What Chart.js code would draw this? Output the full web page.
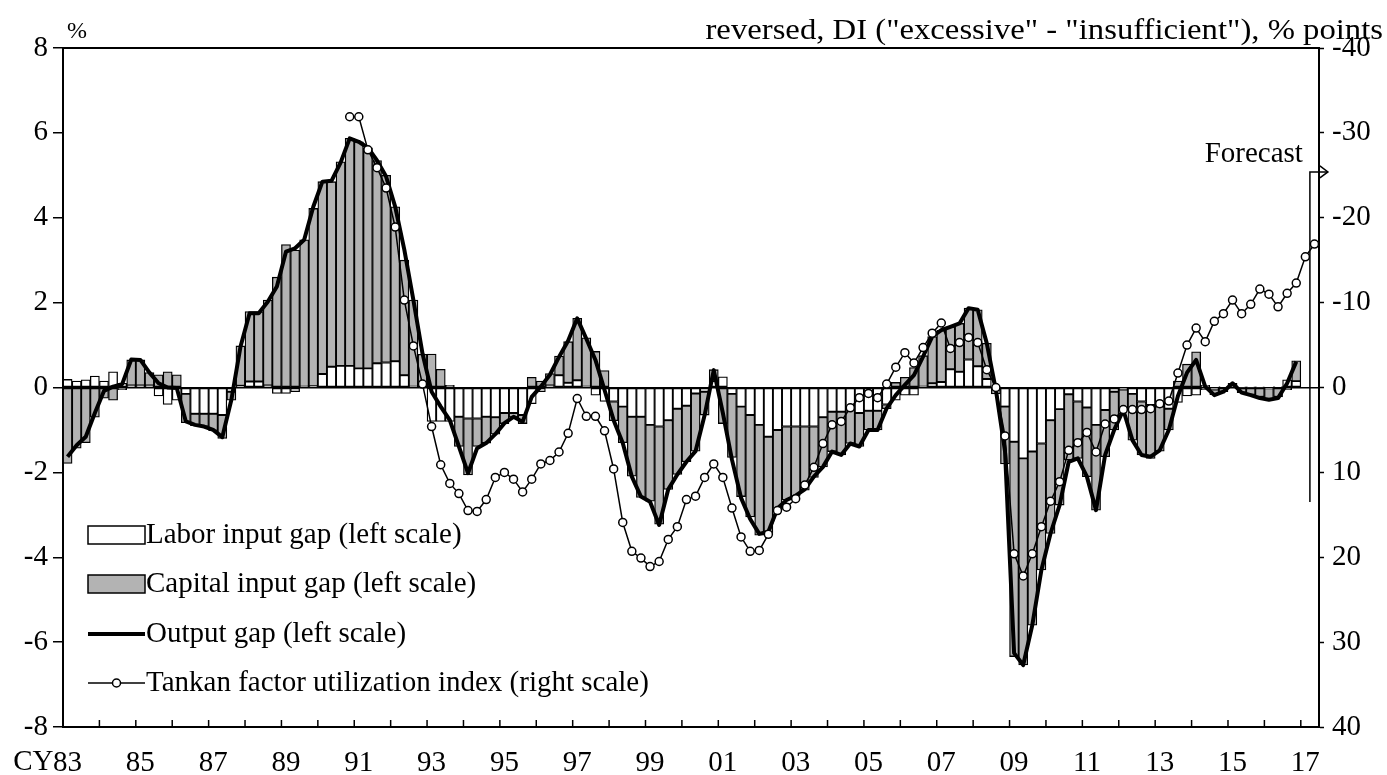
<!DOCTYPE html>
<html>
<head>
<meta charset="utf-8">
<script src="https://cdn.jsdelivr.net/npm/chart.js@4.4.1/dist/chart.umd.min.js"></script>
<style>
  html, body { margin: 0; padding: 0; background: #fff; }
  #wrap { width: 1387px; height: 775px; }
</style>
</head>
<body>
<div id="wrap"><canvas id="gapChart" width="1387" height="775"></canvas></div>
<script>
// ======================
// quarters, CY1983/Q1 - 2017/Q2
// ======================
const firstYear = 1983;
const quarterCount = 138;
const quarters = [];
for (let i = 0; i < quarterCount; i++) {
    quarters.push((firstYear + Math.floor(i / 4)) + '/Q' + (i % 4 + 1));
}
// one label every two years, on the first quarter
const yearTicks = ['83', '85', '87', '89', '91', '93', '95', '97', '99',
                   '01', '03', '05', '07', '09', '11', '13', '15', '17'];

// ======================
// series (left scale, %), 1983/Q1 - 2016/Q4
// ======================
const laborGap = [
    0.19, 0.15, 0.18, 0.27,   0.15, 0.37, 0.10, 0.05,   0.05, 0.05, -0.20, -0.40,
    -0.30, -0.15, -0.62, -0.62,   -0.62, -0.65, -0.10, 0.04,   0.14, 0.14, 0.05, -0.14,
    -0.14, -0.10, 0.02, 0.03,   0.32, 0.49, 0.51, 0.51,   0.45, 0.45, 0.57, 0.59,
    0.62, 0.29, 0.02, 0.01,   -0.80, -0.80, -0.80, -0.69,   -0.73, -0.73, -0.69, -0.70,
    -0.60, -0.60, -0.65, -0.38,   -0.10, 0.05, 0.29, 0.11,   0.17, 0.02, -0.18, -0.33,
    -0.33, -0.45, -0.69, -0.69,   -0.88, -0.92, -0.77, -0.50,   -0.43, -0.14, -0.10, 0.15,
    0.25, -0.15, -0.45, -0.65,   -0.88, -1.16, -1.00, -0.92,   -0.92, -0.92, -0.92, -0.70,
    -0.57, -0.57, -0.50, -0.60,   -0.55, -0.55, -0.40, -0.30,   -0.18, -0.18, 0.02, 0.10,
    0.13, 0.43, 0.37, 0.66,   0.50, 0.20, -0.05, -0.45,   -1.28, -1.67, -1.51, -1.32,
    -0.77, -0.51, -0.16, -0.33,   -0.47, -0.88, -0.53, -0.10,   -0.05, -0.15, -0.33, -0.41,
    -0.45, -0.50, -0.35, -0.20,   -0.18, 0.05, -0.05, 0.02,   0.05, 0.01, 0.01, 0.01,
    -0.02, 0.02, 0.18, 0.15
];
const capitalGap = [
    -1.79, -1.43, -1.30, -0.70,   -0.25, -0.30, -0.05, 0.60,   0.60, 0.30, 0.30, 0.37,
    0.30, -0.68, -0.28, -0.30,   -0.40, -0.55, -0.20, 0.94,   1.65, 1.65, 2.01, 2.60,
    3.37, 3.24, 3.46, 4.19,   4.53, 4.36, 4.81, 5.36,   5.34, 5.20, 4.78, 4.41,
    3.64, 2.71, 2.04, 0.77,   0.79, 0.43, 0.05, -0.70,   -1.33, -0.66, -0.62, -0.40,
    -0.25, -0.10, -0.20, 0.24,   0.15, 0.28, 0.45, 0.97,   1.46, 1.15, 0.85, 0.40,
    -0.45, -0.85, -1.40, -1.90,   -1.80, -2.30, -1.63, -1.55,   -1.32, -1.36, -0.55, 0.27,
    -0.85, -1.50, -2.12, -2.40,   -2.60, -2.28, -1.89, -1.73,   -1.64, -1.50, -1.20, -1.17,
    -0.94, -1.02, -0.82, -0.79,   -0.45, -0.45, -0.10, 0.12,   0.24, 0.47, 0.73, 1.10,
    1.22, 1.00, 1.14, 1.21,   1.33, 0.84, -0.10, -1.35,   -5.06, -4.87, -4.09, -2.98,
    -2.67, -2.26, -1.55, -1.34,   -1.63, -2.01, -1.10, -0.90,   -0.48, -1.09, -1.26, -1.26,
    -1.05, -0.50, 0.15, 0.55,   0.84, -0.05, -0.12, -0.10,   0.05, -0.12, -0.17, -0.22,
    -0.25, -0.22, -0.05, 0.48
];
const outputGap = [
    -1.63, -1.36, -1.16, -0.60,   -0.08, 0.02, 0.08, 0.66,   0.65, 0.35, 0.10, 0.00,
    -0.01, -0.80, -0.88, -0.92,   -1.00, -1.17, -0.29, 0.96,   1.75, 1.75, 2.02, 2.38,
    3.20, 3.28, 3.48, 4.26,   4.85, 4.87, 5.30, 5.87,   5.79, 5.65, 5.35, 4.97,
    4.26, 3.25, 2.06, 0.80,   -0.10, -0.45, -0.77, -1.39,   -2.02, -1.43, -1.31, -1.10,
    -0.84, -0.69, -0.81, -0.22,   0.02, 0.30, 0.72, 1.10,   1.63, 1.15, 0.65, -0.06,
    -0.77, -1.31, -2.10, -2.57,   -2.69, -3.24, -2.40, -2.05,   -1.75, -1.50, -0.65, 0.41,
    -0.60, -1.70, -2.60, -3.10,   -3.45, -3.40, -2.85, -2.65,   -2.55, -2.40, -2.10, -1.87,
    -1.51, -1.59, -1.32, -1.39,   -1.00, -1.00, -0.49, -0.18,   0.06, 0.29, 0.73, 1.20,
    1.35, 1.43, 1.51, 1.87,   1.83, 1.04, -0.06, -1.50,   -6.26, -6.54, -5.60, -4.30,
    -3.44, -2.77, -1.75, -1.67,   -2.10, -2.89, -1.59, -1.00,   -0.53, -1.24, -1.59, -1.63,
    -1.48, -1.00, -0.20, 0.35,   0.65, 0.02, -0.18, -0.10,   0.10, -0.12, -0.18, -0.25,
    -0.29, -0.25, 0.10, 0.61
];

// Tankan (right scale, reversed, % points), 1990/Q4 - 2017/Q2 (last one is the forecast)
const tankanStart = 31;
const tankanValues = [
    -31.9, -31.9, -28.0, -25.9, -23.5, -18.9, -10.3, -4.9, -0.4,
    4.6, 9.1, 11.3, 12.5, 14.5, 14.6, 13.2, 10.6, 10.0, 10.8,
    12.3, 10.8, 9.0, 8.6, 7.6, 5.4, 1.3, 3.4, 3.4, 5.1,
    9.6, 15.9, 19.3, 20.1, 21.1, 20.5, 17.9, 16.4, 13.2, 12.8,
    10.6, 9.0, 10.6, 14.2, 17.6, 19.3, 19.2, 17.3, 14.5, 14.1,
    13.1, 11.5, 9.4, 6.6, 4.4, 4.0, 2.4, 1.2, 0.7, 1.2,
    -0.4, -2.4, -4.1, -2.9, -4.7, -6.4, -7.6, -4.6, -5.3, -5.9,
    -5.3, -2.1, 0.0, 5.7, 19.6, 22.2, 19.6, 16.4, 13.4, 11.1,
    7.4, 6.5, 5.3, 7.6, 4.3, 3.7, 2.6, 2.6, 2.6, 2.5,
    1.9, 1.6, -1.7, -5.0, -7.0, -5.4, -7.8, -8.7, -10.3, -8.7,
    -9.8, -11.6, -11.0, -9.5, -11.1, -12.3, -15.4, -16.9
];
const tankan = new Array(tankanStart).fill(null).concat(tankanValues);

// forecast marker: between the last two Tankan points
const forecastAfter = quarterCount - 2;

const fontFamily = "'Liberation Serif', 'Times New Roman', serif";
const fontSize = 29;
const barGray = '#b3b3b3';

Chart.defaults.font.family = fontFamily;
Chart.defaults.font.size = fontSize;
Chart.defaults.color = '#000';

// ======================
// frame, year ticks, titles, forecast arrow, legend
// ======================
const extras = {
    id: 'extras',
    afterDraw(chart) {
        const { ctx, chartArea: area, scales } = chart;
        const x = scales.x;
        const y = scales.y;
        ctx.save();
        ctx.strokeStyle = '#000';
        ctx.fillStyle = '#000';

        // top frame
        ctx.lineWidth = 2;
        ctx.beginPath();
        ctx.moveTo(area.left, area.top);
        ctx.lineTo(area.right, area.top);
        ctx.stroke();

        // year ticks pointing into the plot
        ctx.lineWidth = 1.5;
        for (let i = 4; i < quarters.length; i += 4) {
            const px = x.getPixelForValue(i - 0.5);
            ctx.beginPath();
            ctx.moveTo(px, area.bottom);
            ctx.lineTo(px, area.bottom - 7);
            ctx.stroke();
        }

        ctx.font = fontSize + 'px ' + fontFamily;

        // "CY" in front of the first year
        ctx.textAlign = 'right';
        ctx.textBaseline = 'alphabetic';
        ctx.fillText('CY', x.getPixelForValue(0) - 14, 770);

        // axis titles
        ctx.textAlign = 'left';
        ctx.font = '24px ' + fontFamily;
        ctx.fillText('%', 67, 38);

        // right title is set a little wide, as in the original
        ctx.font = '30px ' + fontFamily;
        ctx.textAlign = 'right';
        ctx.save();
        ctx.translate(1383, 39);
        ctx.scale(1.09, 1);
        ctx.fillText('reversed, DI ("excessive" - "insufficient"), % points', 0, 0);
        ctx.restore();

        // forecast arrow
        ctx.font = fontSize + 'px ' + fontFamily;
        const fx = x.getPixelForValue(forecastAfter + 0.5);
        const fTop = y.getPixelForValue(5.08);
        const fBottom = y.getPixelForValue(-2.7);
        ctx.lineWidth = 1.5;
        ctx.beginPath();
        ctx.moveTo(fx, fBottom);
        ctx.lineTo(fx, fTop);
        ctx.lineTo(fx + 18, fTop);
        ctx.stroke();
        ctx.beginPath();
        ctx.moveTo(fx + 10, fTop - 6);
        ctx.lineTo(fx + 18, fTop);
        ctx.lineTo(fx + 10, fTop + 6);
        ctx.stroke();
        ctx.textAlign = 'right';
        ctx.fillText('Forecast', fx - 7, fTop - 10);

        // legend
        const lx = area.left + 25;
        const lw = 57;
        const rows = [535, 584, 634, 683];
        ctx.textAlign = 'left';
        ctx.textBaseline = 'middle';

        ctx.lineWidth = 1.5;
        ctx.fillStyle = '#fff';
        ctx.fillRect(lx, rows[0] - 9, lw, 18);
        ctx.strokeRect(lx, rows[0] - 9, lw, 18);
        ctx.fillStyle = barGray;
        ctx.fillRect(lx, rows[1] - 9, lw, 18);
        ctx.strokeRect(lx, rows[1] - 9, lw, 18);

        ctx.lineWidth = 4;
        ctx.beginPath();
        ctx.moveTo(lx, rows[2]);
        ctx.lineTo(lx + lw, rows[2]);
        ctx.stroke();

        ctx.lineWidth = 1.5;
        ctx.beginPath();
        ctx.moveTo(lx, rows[3]);
        ctx.lineTo(lx + lw, rows[3]);
        ctx.stroke();
        ctx.fillStyle = '#fff';
        ctx.beginPath();
        ctx.arc(lx + lw / 2, rows[3], 4, 0, Math.PI * 2);
        ctx.fill();
        ctx.stroke();

        ctx.fillStyle = '#000';
        const names = chart.data.datasets.map(d => d.label);
        ctx.fillText(names[2], lx + lw + 1, rows[0]);
        ctx.fillText(names[3], lx + lw + 1, rows[1]);
        ctx.fillText(names[1], lx + lw + 1, rows[2]);
        ctx.fillText(names[0], lx + lw + 1, rows[3]);

        ctx.restore();
    }
};

// ======================
// chart
// ======================
const ctx = document.getElementById('gapChart').getContext('2d');
const gapChart = new Chart(ctx, {
    type: 'bar',
    data: {
        labels: quarters,
        datasets: [{
            type: 'line',
            label: 'Tankan factor utilization index (right scale)',
            data: tankan,
            yAxisID: 'y2',
            borderColor: '#000',
            borderWidth: 1.5,
            pointRadius: 4,
            pointBackgroundColor: '#fff',
            pointBorderColor: '#000',
            pointBorderWidth: 1.5,
            tension: 0,
            order: 0
        }, {
            type: 'line',
            label: 'Output gap (left scale)',
            data: outputGap,
            yAxisID: 'y',
            stack: 'og',
            borderColor: '#000',
            borderWidth: 4,
            borderJoinStyle: 'round',
            pointRadius: 0,
            tension: 0,
            order: 1
        }, {
            label: 'Labor input gap (left scale)',
            data: laborGap,
            yAxisID: 'y',
            stack: 'inputs',
            backgroundColor: '#fff',
            borderColor: '#000',
            borderWidth: 1.3,
            borderSkipped: false,
            barPercentage: 1,
            categoryPercentage: 1,
            order: 2
        }, {
            label: 'Capital input gap (left scale)',
            data: capitalGap,
            yAxisID: 'y',
            stack: 'inputs',
            backgroundColor: barGray,
            borderColor: '#000',
            borderWidth: 1.3,
            borderSkipped: false,
            barPercentage: 1,
            categoryPercentage: 1,
            order: 3
        }]
    },
    options: {
        responsive: false,
        devicePixelRatio: 1,
        animation: false,
        layout: { padding: { top: 48, left: 0, right: 0, bottom: 0 } },
        plugins: {
            legend: { display: false },
            tooltip: { enabled: false }
        },
        scales: {
            x: {
                type: 'category',
                offset: true,
                stacked: true,
                grid: { display: false },
                border: { display: true, color: '#000', width: 2 },
                ticks: {
                    autoSkip: false,
                    maxRotation: 0,
                    padding: 11,
                    color: '#000',
                    callback: (value, index) => index % 8 === 0 ? yearTicks[index / 8] : ''
                },
                afterFit: scale => { scale.height = 48; }
            },
            y: {
                position: 'left',
                stacked: true,
                min: -8,
                max: 8,
                ticks: { stepSize: 2, padding: 5, color: '#000' },
                grid: {
                    color: c => (c.tick && c.tick.value === 0) ? '#000' : 'rgba(0,0,0,0)',
                    lineWidth: 1.5,
                    tickLength: 10,
                    tickColor: '#000',
                    tickWidth: 1.5
                },
                border: { display: true, color: '#000', width: 2 },
                afterFit: scale => { scale.width = 63; }
            },
            y2: {
                position: 'right',
                reverse: true,
                min: -40,
                max: 40,
                ticks: { stepSize: 10, padding: 8, color: '#000' },
                grid: {
                    drawOnChartArea: false,
                    tickLength: 5,
                    tickColor: '#000',
                    tickWidth: 1.5
                },
                border: { display: true, color: '#000', width: 2 },
                afterFit: scale => { scale.width = 68; }
            }
        }
    },
    plugins: [extras]
});
</script>
</body>
</html>
